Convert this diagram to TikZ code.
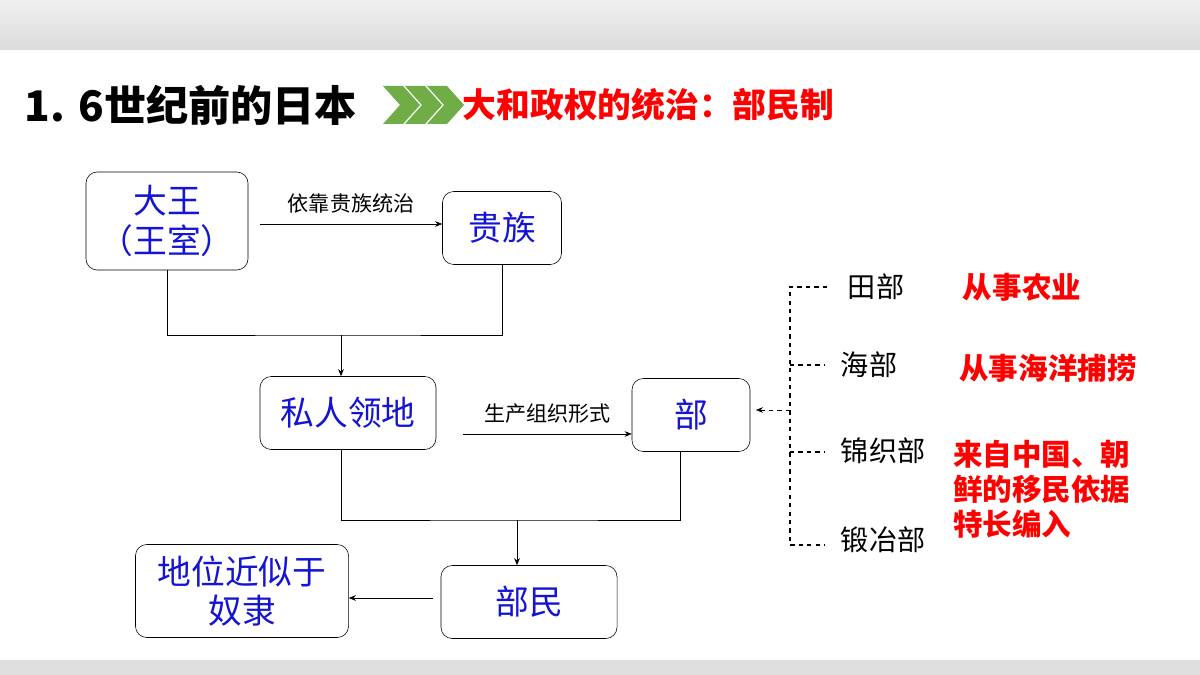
\documentclass[tikz,border=0pt]{standalone}
\usepackage{fontspec}
\setmainfont{Noto Sans CJK SC}
\newfontfamily\cjk{Noto Sans CJK SC}
\usetikzlibrary{arrows.meta}
\definecolor{boxblue}{RGB}{20,20,210}
\definecolor{chevgreen}{RGB}{112,173,71}
\begin{document}
\begin{tikzpicture}[x=0.025cm, y=-0.025cm,
    box/.style={draw=black, rounded corners=8pt, fill=white, text=boxblue,
        font=\fontsize{24}{28}\selectfont, align=center, inner sep=0pt},
    lbl/.style={font=\fontsize{15}{18}\selectfont},
    sub/.style={font=\fontsize{20}{24}\selectfont, anchor=west},
    note/.style={text=red, font=\fontsize{21}{25}\selectfont\bfseries, align=left},
    arr/.style={-{Stealth[length=5pt,width=4pt]}},
    line/.style={-}
]
    \useasboundingbox (0,0) rectangle (1200,675);
    \shade[top color=gray!12, bottom color=gray!28] (0,0) rectangle (1200,50);
    \fill[gray!25] (0,660) rectangle (1200,675);
    % title
    \node[anchor=west, font=\fontsize{30}{34}\selectfont\bfseries] (title) at (20,105) {1. 6世纪前的日本};
    \foreach \i in {0,1,2}
        \fill[chevgreen] ({383+22*\i},86) -- ({403+22*\i},86) -- ({420+22*\i},105)
            -- ({403+22*\i},124) -- ({383+22*\i},124) -- ({400+22*\i},105) -- cycle;
    \node[anchor=west, text=red, font=\fontsize{24}{28}\selectfont\bfseries] (sub) at (458,105) {大和政权的统治：部民制};
    % boxes
    \node[box, minimum width=4.05cm, minimum height=2.45cm] (king) at (167,221) {大王\\（王室）};
    \node[box, minimum width=2.975cm, minimum height=1.825cm] (noble) at (502,228) {贵族};
    \node[box, minimum width=4.4cm, minimum height=1.825cm] (land) at (348,413) {私人领地};
    \node[box, minimum width=2.95cm, minimum height=1.825cm] (bu) at (691,415) {部};
    \node[box, minimum width=4.4cm, minimum height=1.825cm] (bumin) at (529,602) {部民};
    \node[box, minimum width=5.325cm, minimum height=2.325cm] (slave) at (242,591) {地位近似于\\奴隶};
    % connectors
    \coordinate (a1) at (260,224);
    \draw[arr] (a1) -- node[lbl, above=4pt] {依靠贵族统治} (noble.west |- a1);
    \coordinate (j1) at (341,335);
    \draw[line] (king.south) |- (j1) -| (noble.south);
    \draw[arr] (j1) -- (land.north -| j1);
    \coordinate (a2) at (463,434);
    \draw[arr] (a2) -- node[lbl, above=4pt] {生产组织形式} (bu.west |- a2);
    \coordinate (j2) at (517,520);
    \draw[line] (land.south -| j1) |- (j2) -| (bu.south -| 680,0);
    \draw[arr] (j2) -- (bumin.north -| j2);
    \coordinate (a3) at (433,598);
    \draw[arr] (a3) -- (slave.east |- a3);
    % branches
    \node[sub] (tian) at (843,287) {田部};
    \node[sub] (hai) at (836,365) {海部};
    \node[sub] (jin) at (836,451) {锦织部};
    \node[sub] (duan) at (836,540) {锻冶部};
    \coordinate (b1) at (790,287);
    \coordinate (b4) at (790,545);
    \coordinate (bm) at (790,410);
    \draw[dashed, thick] (827,287) -- (b1) -- (b4) -- (825,545);
    \draw[dashed, thick] (790,365) -- (825,365);
    \draw[dashed, thick] (790,452) -- (825,452);
    \draw[dashed, arr] (bm) -- ([xshift=4]bu.east |- bm);
    \node[note] (n1) at (1022,287) {从事农业};
    \node[note] (n2) at (1048,368) {从事海洋捕捞};
    \node[note, anchor=north west, inner sep=0pt] (n3) at (953,440) {来自中国、朝\\鲜的移民依据\\特长编入};
\end{tikzpicture}
\end{document}
